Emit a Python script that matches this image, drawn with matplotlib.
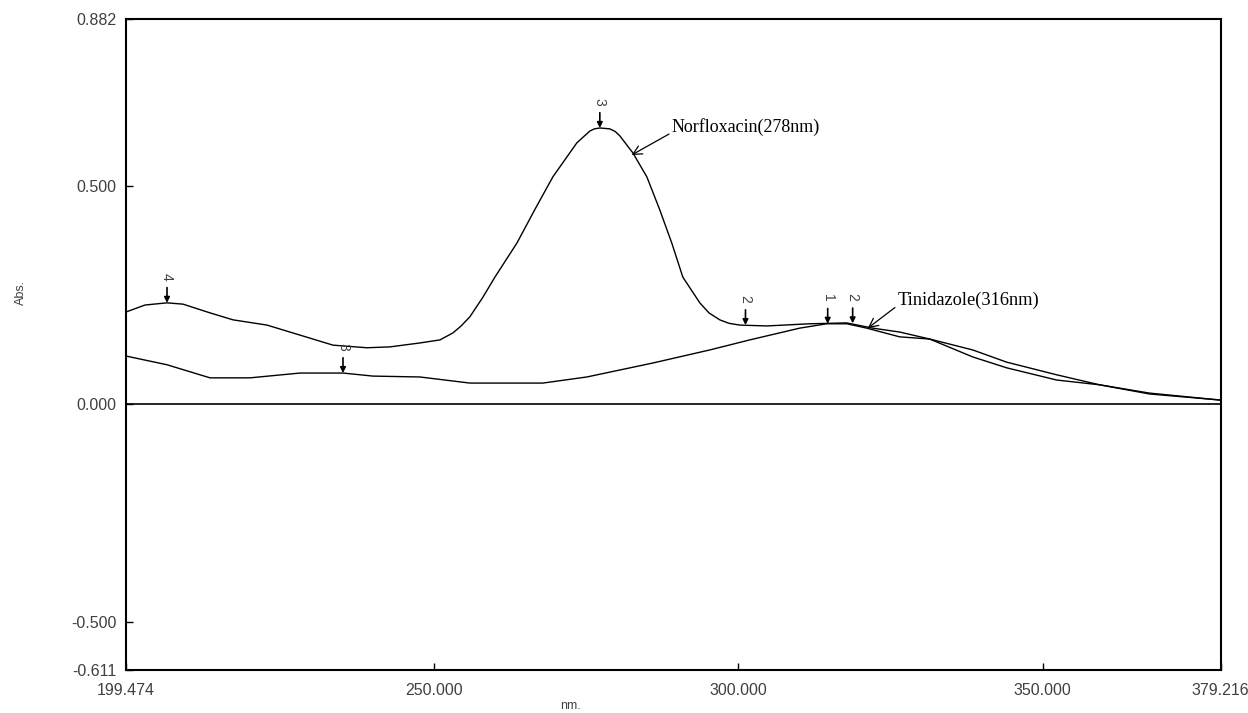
import matplotlib
matplotlib.use("Agg")
from matplotlib import pyplot as plt

# UV spectra (wavelength nm, absorbance)
norflox_nm = [199.47, 202.59, 206.20, 208.83, 213.26, 217.04, 222.62, 228.04, 233.45,
              239.03, 242.81, 247.73, 251.02, 253.15, 254.50, 255.94, 258.08, 260.05,
              263.66, 266.61, 269.57, 273.51, 275.64, 276.40, 277.28, 278.92, 279.80,
              280.56, 282.70, 285.00, 287.13, 289.10, 290.91, 293.70, 295.20, 296.98,
              298.50, 300.26, 304.69, 311.75, 317.83, 322.10, 326.53, 331.45, 338.51,
              344.09, 352.30, 359.36, 367.56, 379.22]
norflox_abs = [0.210, 0.226, 0.231, 0.228, 0.208, 0.192, 0.180, 0.157, 0.134,
               0.128, 0.130, 0.139, 0.146, 0.162, 0.178, 0.199, 0.244, 0.290,
               0.368, 0.445, 0.520, 0.598, 0.625, 0.630, 0.632, 0.630, 0.624,
               0.614, 0.575, 0.520, 0.444, 0.368, 0.290, 0.231, 0.208, 0.192,
               0.184, 0.180, 0.178, 0.183, 0.185, 0.173, 0.164, 0.148, 0.107,
               0.082, 0.054, 0.043, 0.022, 0.008]

tinid_nm = [199.47, 206.20, 213.26, 219.83, 228.04, 235.10, 240.02, 247.73, 255.94,
            267.92, 275.15, 285.98, 295.34, 301.90, 310.11, 314.54, 317.83, 321.11,
            326.53, 331.45, 338.51, 344.09, 352.30, 359.36, 367.56, 379.22]
tinid_abs = [0.109, 0.089, 0.059, 0.059, 0.070, 0.070, 0.063, 0.061, 0.047,
             0.047, 0.061, 0.093, 0.123, 0.146, 0.173, 0.183, 0.183, 0.173,
             0.153, 0.148, 0.123, 0.095, 0.066, 0.043, 0.024, 0.008]

# peak picks: (nm, abs, label)
peaks = [(206.20, 0.231, "4"), (235.10, 0.070, "3"), (277.28, 0.632, "3"),
         (301.20, 0.180, "2"), (314.70, 0.183, "1"), (318.80, 0.184, "2")]

x_ticks = [199.474, 250.0, 300.0, 350.0, 379.216]
y_ticks = [0.882, 0.5, 0.0, -0.5, -0.611]

fig = plt.figure(figsize=(12.48, 7.13), dpi=100)
ax = fig.add_axes([0.101, 0.0603, 0.877, 0.9131])

ax.plot(norflox_nm, norflox_abs, color="black", lw=1.0)
ax.plot(tinid_nm, tinid_abs, color="black", lw=1.0)
ax.axhline(0, color="black", lw=1.2)

ax.set_xlim(x_ticks[0], x_ticks[-1])
ax.set_ylim(y_ticks[-1], y_ticks[0])
ax.set_xticks(x_ticks)
ax.set_xticklabels(["%.3f" % v for v in x_ticks])
ax.set_yticks(y_ticks)
ax.set_yticklabels(["%.3f" % v for v in y_ticks])
ax.tick_params(direction="in", length=5, width=1, labelsize=11.5,
               labelcolor="#404040", labelfontfamily="Liberation Sans")
ax.tick_params(axis="x", pad=9)
ax.tick_params(axis="y", pad=7)
for s in ax.spines.values():
    s.set_linewidth(1.5)

for x, y, lab in peaks:
    ax.annotate(lab, xy=(x, y), xytext=(0, 16), textcoords="offset points",
                ha="center", va="bottom", rotation=270, fontsize=10,
                color="#404040", family="Liberation Sans",
                arrowprops=dict(arrowstyle="-|>", color="black", lw=1.2,
                                mutation_scale=8, shrinkA=3, shrinkB=0))

ax.annotate("Norfloxacin(278nm)", xy=(282.5, 0.570), xytext=(289.1, 0.634),
            ha="left", va="center", fontsize=13, family="Liberation Serif",
            arrowprops=dict(arrowstyle="->", color="black", lw=0.9,
                            relpos=(0, 0.2), shrinkA=0, shrinkB=0,
                            mutation_scale=16))
ax.annotate("Tinidazole(316nm)", xy=(321.3, 0.173), xytext=(326.2, 0.237),
            ha="left", va="center", fontsize=13.2, family="Liberation Serif",
            arrowprops=dict(arrowstyle="->", color="black", lw=0.9,
                            relpos=(0, 0.2), shrinkA=0, shrinkB=0,
                            mutation_scale=16))

fig.text(0.017, 0.59, "Abs.", rotation=90, ha="center", va="center",
         fontsize=9, color="#404040", family="Liberation Sans")
fig.text(0.457, 0.002, "nm.", ha="center", va="bottom",
         fontsize=9, color="#404040", family="Liberation Sans")

fig.savefig("out.png", dpi=100)
